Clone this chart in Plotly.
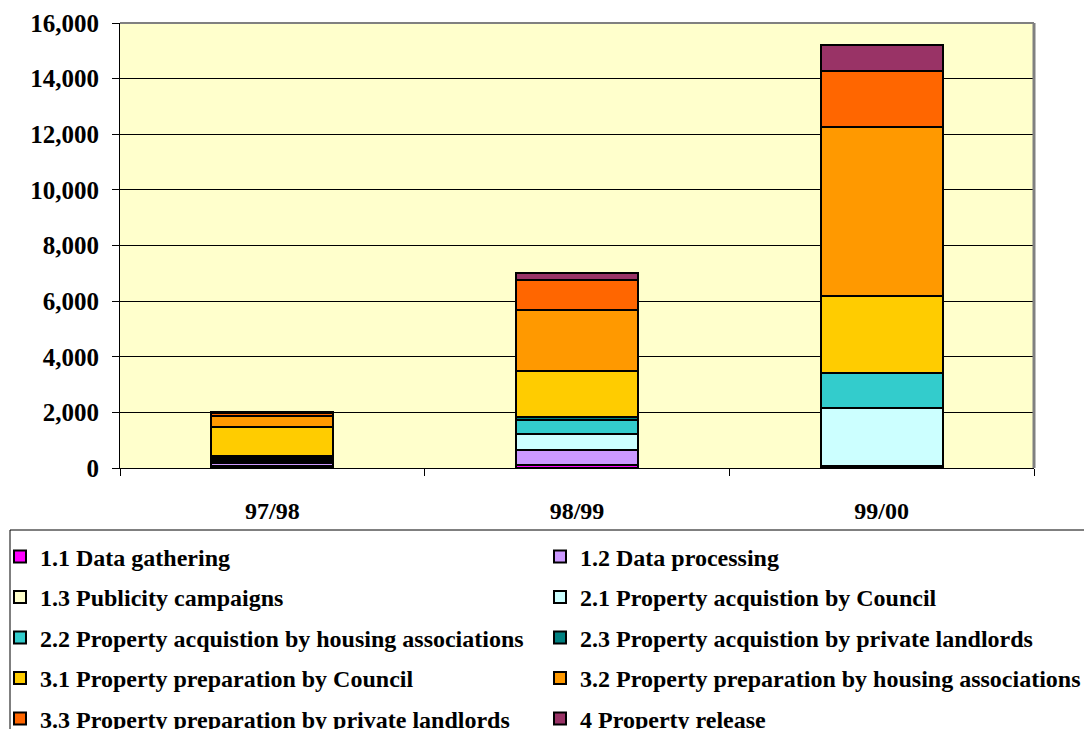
import plotly.graph_objects as go

# Financial years on the category axis
years = ["97/98", "98/99", "99/00"]

# Spending per activity for each year (stacked bottom to top)
data_gathering = [90, 100, 40]
data_processing = [90, 540, 30]
publicity_campaigns = [40, 20, 20]
acq_council = [60, 560, 2060]
acq_housing_assoc = [70, 510, 1250]
acq_private_landlords = [80, 110, 30]
prep_council = [1045, 1630, 2760]
prep_housing_assoc = [400, 2220, 6060]
prep_private_landlords = [90, 1055, 2015]
property_release = [65, 265, 960]

series_names = [
    "1.1 Data gathering",
    "1.2 Data processing",
    "1.3 Publicity campaigns",
    "2.1 Property acquistion by Council",
    "2.2 Property acquistion by housing associations",
    "2.3 Property acquistion by private landlords",
    "3.1 Property preparation by Council",
    "3.2 Property preparation by housing associations",
    "3.3 Property preparation by private landlords",
    "4 Property release",
]
series_values = [
    data_gathering, data_processing, publicity_campaigns,
    acq_council, acq_housing_assoc, acq_private_landlords,
    prep_council, prep_housing_assoc, prep_private_landlords,
    property_release,
]
series_colors = [
    "#FF00FF", "#CC99FF", "#FFFFCC", "#CCFFFF", "#33CCCC",
    "#008080", "#FFCC00", "#FF9900", "#FF6600", "#993366",
]

y_ticks = [0, 2000, 4000, 6000, 8000, 10000, 12000, 14000, 16000]

FONT = "Liberation Serif, Times New Roman, serif"
W, H = 1084, 729

# Plot-area geometry in pixels
M_L, M_R, M_T, M_B = 120, 50, 23, 261
PLOT_W = W - M_L - M_R
PLOT_H = H - M_T - M_B
PLOT_BOTTOM = H - M_B


def px_to_paper_x(px):
    return (px - M_L) / PLOT_W


def px_to_paper_y(py):
    return (PLOT_BOTTOM - py) / PLOT_H


fig = go.Figure()

# Each legend entry gets its own legend so the two-column grid can be laid out
legend_cols_px = [0, 540]
legend_row0_px, legend_row_step = 557, 40.5
legend_layout = {}
for i, (name, vals, col) in enumerate(zip(series_names, series_values, series_colors)):
    lid = "legend" if i == 0 else f"legend{i + 1}"
    fig.add_trace(go.Bar(
        x=years, y=vals, name=name, legend=lid,
        marker=dict(color=col, line=dict(color="black", width=2)),
    ))
    row, c = divmod(i, 2)
    legend_layout[lid] = dict(
        xref="container", yref="container",
        x=legend_cols_px[c] / W,
        y=1 - (legend_row0_px + row * legend_row_step) / H,
        xanchor="left", yanchor="middle",
        orientation="h",
        borderwidth=0,
        bgcolor="rgba(0,0,0,0)",
        font=dict(family=FONT, size=24, color="black", weight="bold"),
    )

fig.update_layout(
    barmode="stack",
    bargap=0.6,
    width=W, height=H,
    margin=dict(l=M_L, r=M_R, t=M_T, b=M_B, autoexpand=False),
    paper_bgcolor="white",
    plot_bgcolor="#FFFFCC",
    font=dict(family=FONT, color="black"),
    showlegend=True,
    xaxis=dict(
        showline=True, linecolor="black", linewidth=1,
        ticks="outside", tickson="boundaries", ticklen=7, tickcolor="black",
        tickfont=dict(family=FONT, size=24, color="black", weight="bold"),
        ticklabelstandoff=21,
        showgrid=False,
        automargin=False,
    ),
    yaxis=dict(
        range=[0, 16000],
        tickvals=y_ticks,
        tickformat=",d",
        showline=True, linecolor="black", linewidth=1,
        ticks="outside", ticklen=7, tickcolor="black",
        tickfont=dict(family=FONT, size=25, color="black", weight="bold"),
        ticklabelstandoff=8,
        showgrid=True, gridcolor="black", gridwidth=1,
        zeroline=False,
        automargin=False,
    ),
    **legend_layout,
)

# Grey shadow edge along the top and right of the plot area
fig.add_shape(type="line", xref="paper", yref="paper", x0=0, x1=1, y0=1, y1=1,
              line=dict(color="#808080", width=2))
fig.add_shape(type="line", xref="paper", yref="paper", x0=1, x1=1, y0=0, y1=1,
              line=dict(color="#808080", width=3))

# Frame around the legend block
fig.add_shape(
    type="rect", xref="paper", yref="paper",
    x0=px_to_paper_x(10), x1=px_to_paper_x(W + 20),
    y0=px_to_paper_y(H + 20), y1=px_to_paper_y(530),
    line=dict(color="black", width=1), fillcolor="rgba(0,0,0,0)",
)

fig.write_html("out.html")
